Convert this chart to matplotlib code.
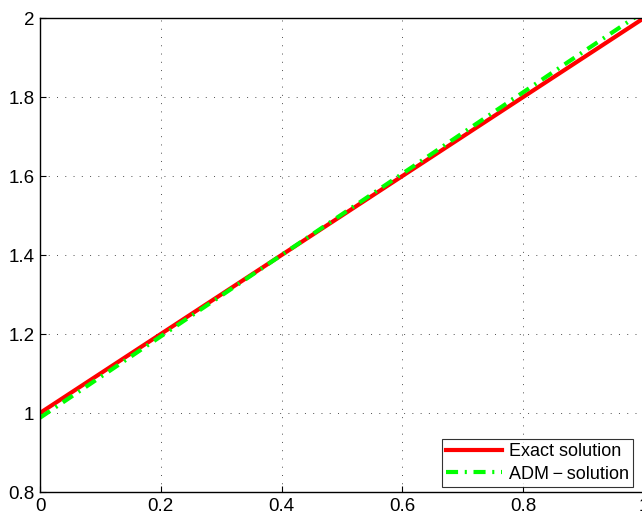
import numpy as np
import matplotlib
matplotlib.use("Agg")
import matplotlib.pyplot as plt

plt.rcParams['font.family'] = ['Liberation Sans', 'DejaVu Sans']

# data
x = [0.0, 0.1, 0.2, 0.3, 0.4, 0.5, 0.6, 0.7, 0.8, 0.9, 1.0]
y_exact = [1.0, 1.1, 1.2, 1.3, 1.4, 1.5, 1.6, 1.7, 1.8, 1.9, 2.0]
y_adm = [0.988, 1.091, 1.194, 1.297, 1.400, 1.503, 1.606, 1.709, 1.812, 1.915, 2.017]

xticks = [0, 0.2, 0.4, 0.6, 0.8, 1]
xticklabels = ["0", "0.2", "0.4", "0.6", "0.8", "1"]
yticks = [0.8, 1.0, 1.2, 1.4, 1.6, 1.8, 2.0]
yticklabels = ["0.8", "1", "1.2", "1.4", "1.6", "1.8", "2"]

fig = plt.figure(figsize=(6.42, 5.17), dpi=100)
W, H = 642, 517
ax = fig.add_axes([40 / W, (H - 492) / H, 604 / W, (492 - 18) / H])

ax.plot(x, y_exact, color='#ff0000', lw=3.0, label="Exact solution")
ax.plot(x, y_adm, color='#00ff00', lw=3.0, ls='-.', label="ADM\u2009\u2212\u2009solution",
        dashes=(2.9, 1.6, 0.5, 1.6))

ax.set_xlim(0, 1)
ax.set_ylim(0.8, 2)
ax.set_xticks(xticks)
ax.set_xticklabels(xticklabels)
ax.set_yticks(yticks)
ax.set_yticklabels(yticklabels)
ax.tick_params(direction='in', length=4, labelsize=13.5, width=0.8)
ax.tick_params(axis='x', pad=4.5)
ax.tick_params(axis='y', pad=4)
ax.grid(True, color='#222222', ls=(0, (1, 7.5)), lw=0.7, alpha=0.8)
for s in ax.spines.values():
    s.set_linewidth(1.0)

leg = ax.legend(loc='lower right', fontsize=13, frameon=True, fancybox=False,
                edgecolor='black', handlelength=3.1, borderpad=0.25,
                labelspacing=0.3, handletextpad=0.35, borderaxespad=0.0,
                bbox_to_anchor=(0.982, 0.0105))
leg.get_frame().set_linewidth(0.8)

fig.savefig("out.png", dpi=100)
